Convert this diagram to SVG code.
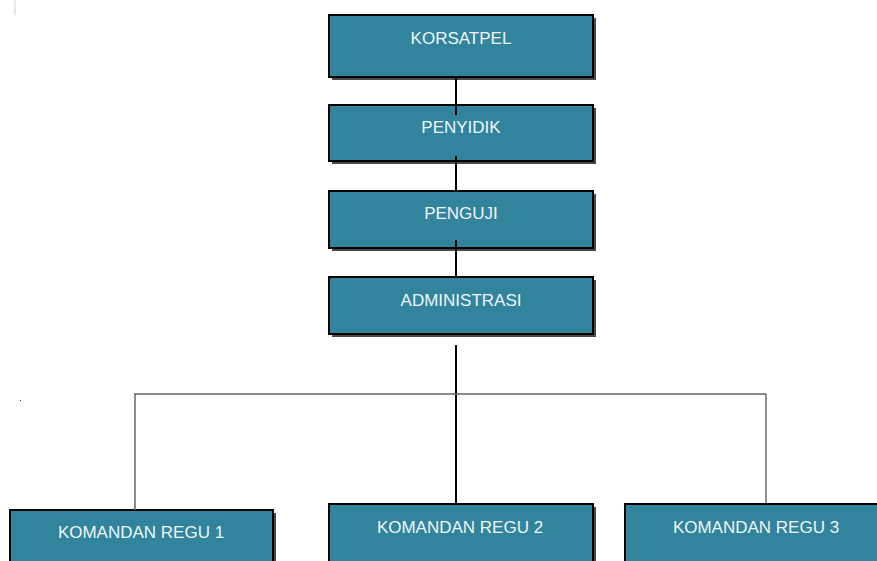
<svg xmlns="http://www.w3.org/2000/svg" width="877" height="561" viewBox="0 0 877 561">
<style>
.shadow{fill:#4a4a4a}
.box{fill:#31849B;stroke:#000;stroke-width:2}
.lbl{font-family:"Liberation Sans",Arial,sans-serif;font-size:17px;fill:#EEF6F8;text-anchor:middle}
.main{stroke:#000;stroke-width:2;fill:none}
.branch{stroke:#666;stroke-width:1.5;fill:none}
</style>
<rect width="877" height="561" fill="#fff"/>
<line x1="15" y1="0" x2="15" y2="15" stroke="#d0d0d0" stroke-width="1"/>
<rect x="20" y="400" width="1" height="1" fill="#333"/>
<g id="korsatpel">
<rect class="shadow" x="332" y="18" width="264" height="62"/>
<rect class="box" x="329" y="15" width="264" height="62"/>
<text class="lbl" x="461" y="44">KORSATPEL</text>
</g>
<g id="penyidik">
<rect class="shadow" x="332" y="108" width="264" height="56"/>
<rect class="box" x="329" y="105" width="264" height="56"/>
<text class="lbl" x="461" y="133">PENYIDIK</text>
</g>
<g id="penguji">
<rect class="shadow" x="332" y="194" width="264" height="57"/>
<rect class="box" x="329" y="191" width="264" height="57"/>
<text class="lbl" x="461" y="219">PENGUJI</text>
</g>
<g id="administrasi">
<rect class="shadow" x="332" y="280" width="264" height="57"/>
<rect class="box" x="329" y="277" width="264" height="57"/>
<text class="lbl" x="461" y="306">ADMINISTRASI</text>
</g>
<g id="regu1">
<rect class="shadow" x="13" y="513" width="263" height="60"/>
<rect class="box" x="10" y="510" width="263" height="60"/>
<text class="lbl" x="141" y="538">KOMANDAN REGU 1</text>
</g>
<g id="regu2">
<rect class="shadow" x="332" y="507" width="264" height="60"/>
<rect class="box" x="329" y="504" width="264" height="60"/>
<text class="lbl" x="460" y="533">KOMANDAN REGU 2</text>
</g>
<g id="regu3">
<rect class="shadow" x="628" y="507" width="264" height="60"/>
<rect class="box" x="625" y="504" width="264" height="60"/>
<text class="lbl" x="756" y="533">KOMANDAN REGU 3</text>
</g>
<g id="connectors">
<line class="main" x1="456" y1="77" x2="456" y2="115"/>
<line class="main" x1="456" y1="156" x2="456" y2="191"/>
<line class="main" x1="456" y1="240" x2="456" y2="278"/>
<line class="main" x1="456" y1="345" x2="456" y2="504"/>
<polyline class="branch" points="135,510 135,394 766,394"/>
<line x1="766" y1="394" x2="766" y2="504" stroke="#222" stroke-width="1"/>
</g>
</svg>
